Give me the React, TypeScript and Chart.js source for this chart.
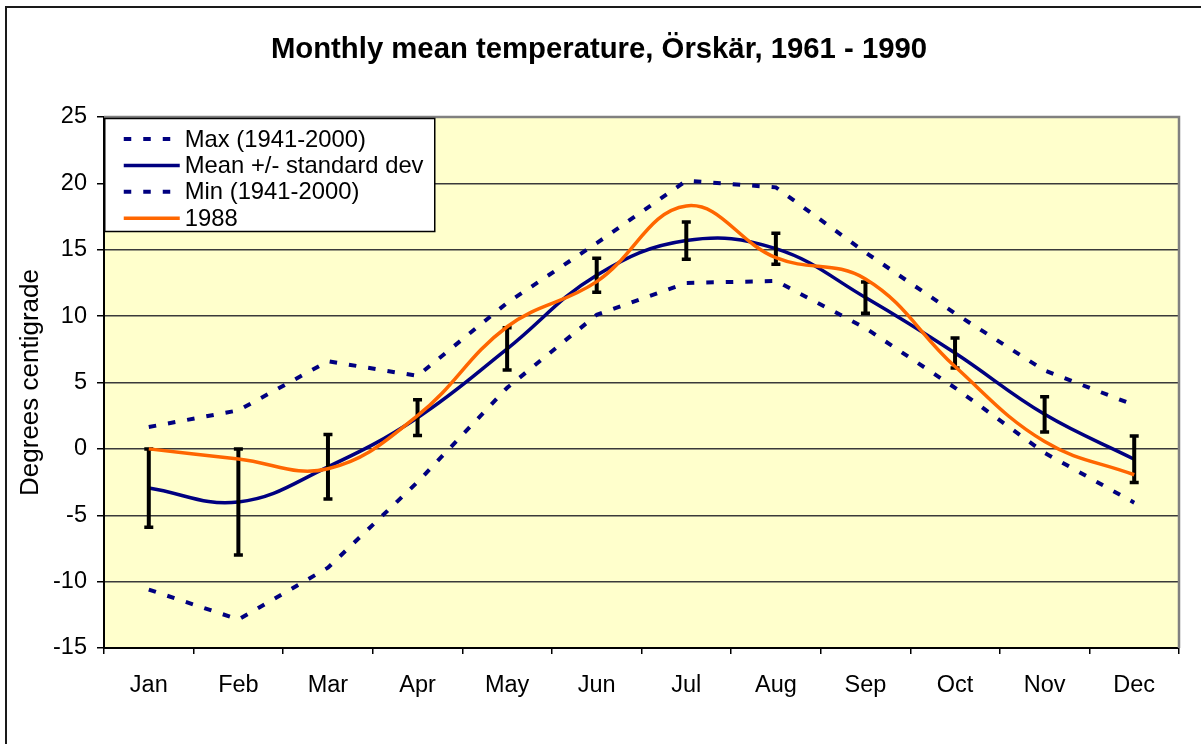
import React, { useEffect, useRef } from "react";
import { Chart, registerables } from "chart.js";

Chart.register(...registerables);

const FONT = "'Liberation Sans', Arial, sans-serif";

const chartTitle = "Monthly mean temperature, Örskär, 1961 - 1990";
const yAxisTitle = "Degrees centigrade";

const months = ["Jan", "Feb", "Mar", "Apr", "May", "Jun", "Jul", "Aug", "Sep", "Oct", "Nov", "Dec"];
const maxTemps = [1.65, 2.9, 6.6, 5.5, 11.0, 15.5, 20.2, 19.7, 14.8, 10.2, 5.9, 3.3];
const meanTemps = [-2.95, -4.0, -1.35, 2.35, 7.53, 13.08, 15.69, 15.08, 11.4, 7.22, 2.6, -0.78];
const stdDev = [2.95, 4.0, 2.43, 1.35, 1.59, 1.28, 1.4, 1.17, 1.18, 1.13, 1.33, 1.75];
const minTemps = [-10.6, -12.85, -8.95, -2.5, 4.6, 10.1, 12.5, 12.65, 9.1, 4.6, -0.3, -4.05];
const temps1988 = [0, -0.77, -1.5, 2.5, 9.2, 12.6, 18.3, 14.4, 12.8, 6.2, 0.55, -1.95];

const yMin = -15;
const yMax = 25;
const yStep = 5;

const NAVY = "#000080";
const ORANGE = "#FF6600";

const decorPlugin = {
  id: "decor",
  beforeDraw(chart: any) {
    const { ctx, chartArea } = chart;
    ctx.save();
    ctx.fillStyle = "#ffffff";
    ctx.fillRect(0, 0, chart.width, chart.height);
    ctx.fillStyle = "#FFFFCC";
    ctx.fillRect(chartArea.left, chartArea.top, chartArea.right - chartArea.left, chartArea.bottom - chartArea.top);
    ctx.restore();
  },
  beforeDatasetsDraw(chart: any) {
    const { ctx, chartArea } = chart;
    ctx.save();
    ctx.strokeStyle = "#808080";
    ctx.lineWidth = 2.5;
    ctx.beginPath();
    ctx.moveTo(chartArea.left, chartArea.top);
    ctx.lineTo(chartArea.right, chartArea.top);
    ctx.lineTo(chartArea.right, chartArea.bottom);
    ctx.stroke();
    ctx.restore();
  },
  afterDatasetDraw(chart: any, args: any) {
    if (args.index !== 1) return;
    const { ctx } = chart;
    const xs = chart.scales.x;
    const ys = chart.scales.y;
    ctx.save();
    ctx.strokeStyle = "#000000";
    ctx.lineCap = "butt";
    for (let i = 0; i < meanTemps.length; i++) {
      const x = xs.getPixelForValue(i);
      const yt = ys.getPixelForValue(meanTemps[i] + stdDev[i]);
      const yb = ys.getPixelForValue(meanTemps[i] - stdDev[i]);
      ctx.lineWidth = 4;
      ctx.beginPath();
      ctx.moveTo(x, yt);
      ctx.lineTo(x, yb);
      ctx.stroke();
      ctx.lineWidth = 3.5;
      ctx.beginPath();
      ctx.moveTo(x - 4.5, yt);
      ctx.lineTo(x + 4.5, yt);
      ctx.moveTo(x - 4.5, yb);
      ctx.lineTo(x + 4.5, yb);
      ctx.stroke();
    }
    ctx.restore();
  },
  afterDraw(chart: any) {
    const { ctx, chartArea } = chart;
    ctx.save();
    // outer frame
    ctx.strokeStyle = "#1a1a1a";
    ctx.lineWidth = 2;
    ctx.beginPath();
    ctx.moveTo(6, chart.height + 5);
    ctx.lineTo(6, 7);
    ctx.lineTo(chart.width + 5, 7);
    ctx.stroke();

    // title
    ctx.fillStyle = "#000";
    ctx.font = `bold 29.3px ${FONT}`;
    ctx.textAlign = "center";
    ctx.textBaseline = "middle";
    ctx.fillText(chartTitle, 599, 50);

    // y axis title
    ctx.save();
    ctx.translate(31, (chartArea.top + chartArea.bottom) / 2);
    ctx.rotate(-Math.PI / 2);
    ctx.font = `26px ${FONT}`;
    ctx.fillText(yAxisTitle, 0, 0);
    ctx.restore();

    // legend
    const lx = chartArea.left + 0.75;
    const ly = chartArea.top + 1.5;
    const lw = 330;
    const lh = 113;
    ctx.fillStyle = "#ffffff";
    ctx.fillRect(lx, ly, lw, lh);
    ctx.strokeStyle = "#000";
    ctx.lineWidth = 1.5;
    ctx.strokeRect(lx, ly, lw, lh);
    ctx.font = `23.8px ${FONT}`;
    ctx.textAlign = "left";
    ctx.textBaseline = "middle";
    chart.data.datasets.forEach((ds: any, i: number) => {
      const y = ly + 20.5 + i * 26.4;
      ctx.save();
      ctx.strokeStyle = ds.borderColor;
      ctx.lineWidth = ds.borderWidth;
      ctx.setLineDash(ds.borderDash || []);
      ctx.beginPath();
      ctx.moveTo(lx + 19, y);
      ctx.lineTo(lx + 75, y);
      ctx.stroke();
      ctx.restore();
      ctx.fillStyle = "#000";
      ctx.fillText(ds.label, lx + 80, y + 1);
    });
    ctx.restore();
  },
};

export default function App() {
  const ref = useRef<HTMLCanvasElement | null>(null);

  useEffect(() => {
    if (!ref.current) return;
    const chart = new Chart(ref.current, {
      type: "line",
      data: {
        labels: months,
        datasets: [
          {
            label: "Max (1941-2000)",
            data: maxTemps,
            borderColor: NAVY,
            borderWidth: 4,
            borderDash: [7.5, 12],
            tension: 0,
            pointRadius: 0,
            fill: false,
            order: 4,
          },
          {
            label: "Mean +/- standard dev",
            data: meanTemps,
            borderColor: NAVY,
            borderWidth: 3.5,
            tension: 0.4,
            pointRadius: 0,
            fill: false,
            order: 2,
          },
          {
            label: "Min (1941-2000)",
            data: minTemps,
            borderColor: NAVY,
            borderWidth: 4,
            borderDash: [7.5, 12],
            tension: 0,
            pointRadius: 0,
            fill: false,
            order: 3,
          },
          {
            label: "1988",
            data: temps1988,
            borderColor: ORANGE,
            borderWidth: 3.5,
            tension: 0.4,
            pointRadius: 0,
            fill: false,
            order: 1,
          },
        ],
      },
      options: {
        animation: false,
        responsive: false,
        devicePixelRatio: 1,
        layout: { padding: { left: 0, right: 22, top: 117, bottom: 36 } },
        plugins: {
          legend: { display: false },
          title: { display: false },
          tooltip: { enabled: false },
        },
        scales: {
          x: {
            offset: true,
            ticks: { color: "#000", font: { family: FONT, size: 23.5 }, padding: 17, maxRotation: 0 },
            grid: { offset: true, drawOnChartArea: false, drawTicks: true, tickLength: 6, color: "#000", lineWidth: 1.5 },
            border: { color: "#000", width: 2 },
            afterFit: (s: any) => {
              s.height = 60;
            },
          },
          y: {
            min: yMin,
            max: yMax,
            ticks: { stepSize: yStep, color: "#000", font: { family: FONT, size: 23.5 }, padding: 10 },
            grid: { color: "#3a3a3a", lineWidth: 1.5, drawTicks: true, tickLength: 7, tickColor: "#000" },
            border: { color: "#000", width: 2 },
            afterFit: (s: any) => {
              s.width = 104;
            },
          },
        },
      },
      plugins: [decorPlugin],
    } as any);
    return () => chart.destroy();
  }, []);

  return (
    <div style={{ position: "absolute", left: 0, top: 0, width: 1201, height: 744 }}>
      <canvas ref={ref} width={1201} height={744} style={{ display: "block" }} />
    </div>
  );
}
